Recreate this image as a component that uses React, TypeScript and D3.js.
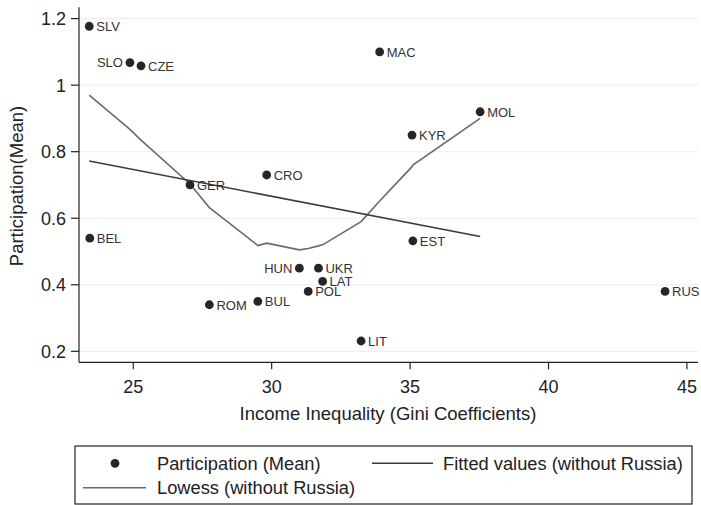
import * as d3 from 'd3';

// data
const countries = ['SLV', 'SLO', 'CZE', 'BEL', 'GER', 'ROM', 'BUL', 'CRO', 'HUN', 'POL', 'UKR', 'LAT', 'LIT', 'MAC', 'KYR', 'EST', 'MOL', 'RUS'];
const gini = [23.41, 24.88, 25.28, 23.43, 27.05, 27.75, 29.5, 29.82, 31.0, 31.32, 31.69, 31.84, 33.23, 33.9, 35.07, 35.1, 37.53, 44.21];
const participation = [1.177, 1.068, 1.058, 0.54, 0.70, 0.34, 0.35, 0.73, 0.45, 0.38, 0.45, 0.41, 0.231, 1.10, 0.85, 0.532, 0.92, 0.38];
const leftLabels = ['SLO', 'HUN'];

const fittedX = [23.41, 37.53];
const fittedY = [0.772, 0.545];

const lowessX = [23.41, 24.88, 25.28, 27.05, 27.75, 29.5, 29.82, 31.0, 31.32, 31.69, 31.84, 33.23, 33.9, 35.07, 35.1, 37.53];
const lowessY = [0.970, 0.867, 0.835, 0.703, 0.632, 0.518, 0.525, 0.505, 0.509, 0.517, 0.520, 0.590, 0.652, 0.755, 0.760, 0.900];

const xTicks = [25, 30, 35, 40, 45];
const yTicks = [0.2, 0.4, 0.6, 0.8, 1, 1.2];

const W = 701;
const H = 505;
const font = '"Liberation Sans", Arial, Helvetica, sans-serif';

export default function App() {
  const x = d3.scaleLinear().domain([23.04, 45.4]).range([79, 698]);
  const y = d3.scaleLinear().domain([0.167, 1.234]).range([362.3, 7.3]);

  const line = d3.line<[number, number]>()
    .x(d => x(d[0]))
    .y(d => y(d[1]));

  const fitted = fittedX.map((v, i) => [v, fittedY[i]] as [number, number]);
  const lowess = lowessX.map((v, i) => [v, lowessY[i]] as [number, number]);

  const [x0, x1] = x.range();
  const [y0, y1] = y.range();

  return (
    <svg width={W} height={H} style={{ position: 'absolute', left: 0, top: 0, background: '#fff' }} fontFamily={font}>
      {/* grid */}
      {yTicks.map(t => (
        <line key={'g' + t} x1={x0} x2={x1} y1={y(t)} y2={y(t)} stroke="#ececec" strokeWidth={1} />
      ))}

      {/* lines */}
      <path d={line(lowess) ?? ''} fill="none" stroke="#6a6a6a" strokeWidth={1.6} />
      <path d={line(fitted) ?? ''} fill="none" stroke="#3c3c3c" strokeWidth={1.6} />

      {/* points */}
      {countries.map((c, i) => {
        const cx = x(gini[i]);
        const cy = y(participation[i]);
        const left = leftLabels.includes(c);
        return (
          <g key={c}>
            <circle cx={cx} cy={cy} r={4.4} fill="#262626" />
            <text x={left ? cx - 7 : cx + 7} y={cy} dy="0.38em" fontSize={13} fill="#333"
              textAnchor={left ? 'end' : 'start'}>{c}</text>
          </g>
        );
      })}

      {/* axes */}
      <line x1={x0} x2={x0} y1={y0} y2={y1} stroke="#222" strokeWidth={1.2} />
      <line x1={x0} x2={x1} y1={y0} y2={y0} stroke="#222" strokeWidth={1.2} />
      {yTicks.map(t => (
        <g key={'y' + t}>
          <line x1={x0 - 8} x2={x0} y1={y(t)} y2={y(t)} stroke="#222" strokeWidth={1.2} />
          <text x={x0 - 13} y={y(t)} dy="0.36em" textAnchor="end" fontSize={18} fill="#222">{String(t)}</text>
        </g>
      ))}
      {xTicks.map(t => (
        <g key={'x' + t}>
          <line x1={x(t)} x2={x(t)} y1={y0} y2={y0 + 7} stroke="#222" strokeWidth={1.2} />
          <text x={x(t)} y={393} textAnchor="middle" fontSize={18} fill="#222">{t}</text>
        </g>
      ))}

      <text x={388} y={420} textAnchor="middle" fontSize={18.5} fill="#222">Income Inequality (Gini Coefficients)</text>
      <text transform="translate(23,186) rotate(-90)" textAnchor="middle" fontSize={18.5} fill="#222">Participation(Mean)</text>

      {/* legend */}
      <rect x={75} y={446} width={617} height={58} fill="#fff" stroke="#222" strokeWidth={1.2} />
      <circle cx={115} cy={463.3} r={4.4} fill="#262626" />
      <text x={157} y={463.3} dy="0.36em" fontSize={18.3} fill="#222">Participation (Mean)</text>
      <line x1={372} x2={433} y1={463.3} y2={463.3} stroke="#3c3c3c" strokeWidth={1.6} />
      <text x={443} y={463.3} dy="0.36em" fontSize={18.3} fill="#222">Fitted values (without Russia)</text>
      <line x1={83} x2={146} y1={487.7} y2={487.7} stroke="#6a6a6a" strokeWidth={1.6} />
      <text x={157} y={487.7} dy="0.36em" fontSize={18.3} fill="#222">Lowess (without Russia)</text>
    </svg>
  );
}
